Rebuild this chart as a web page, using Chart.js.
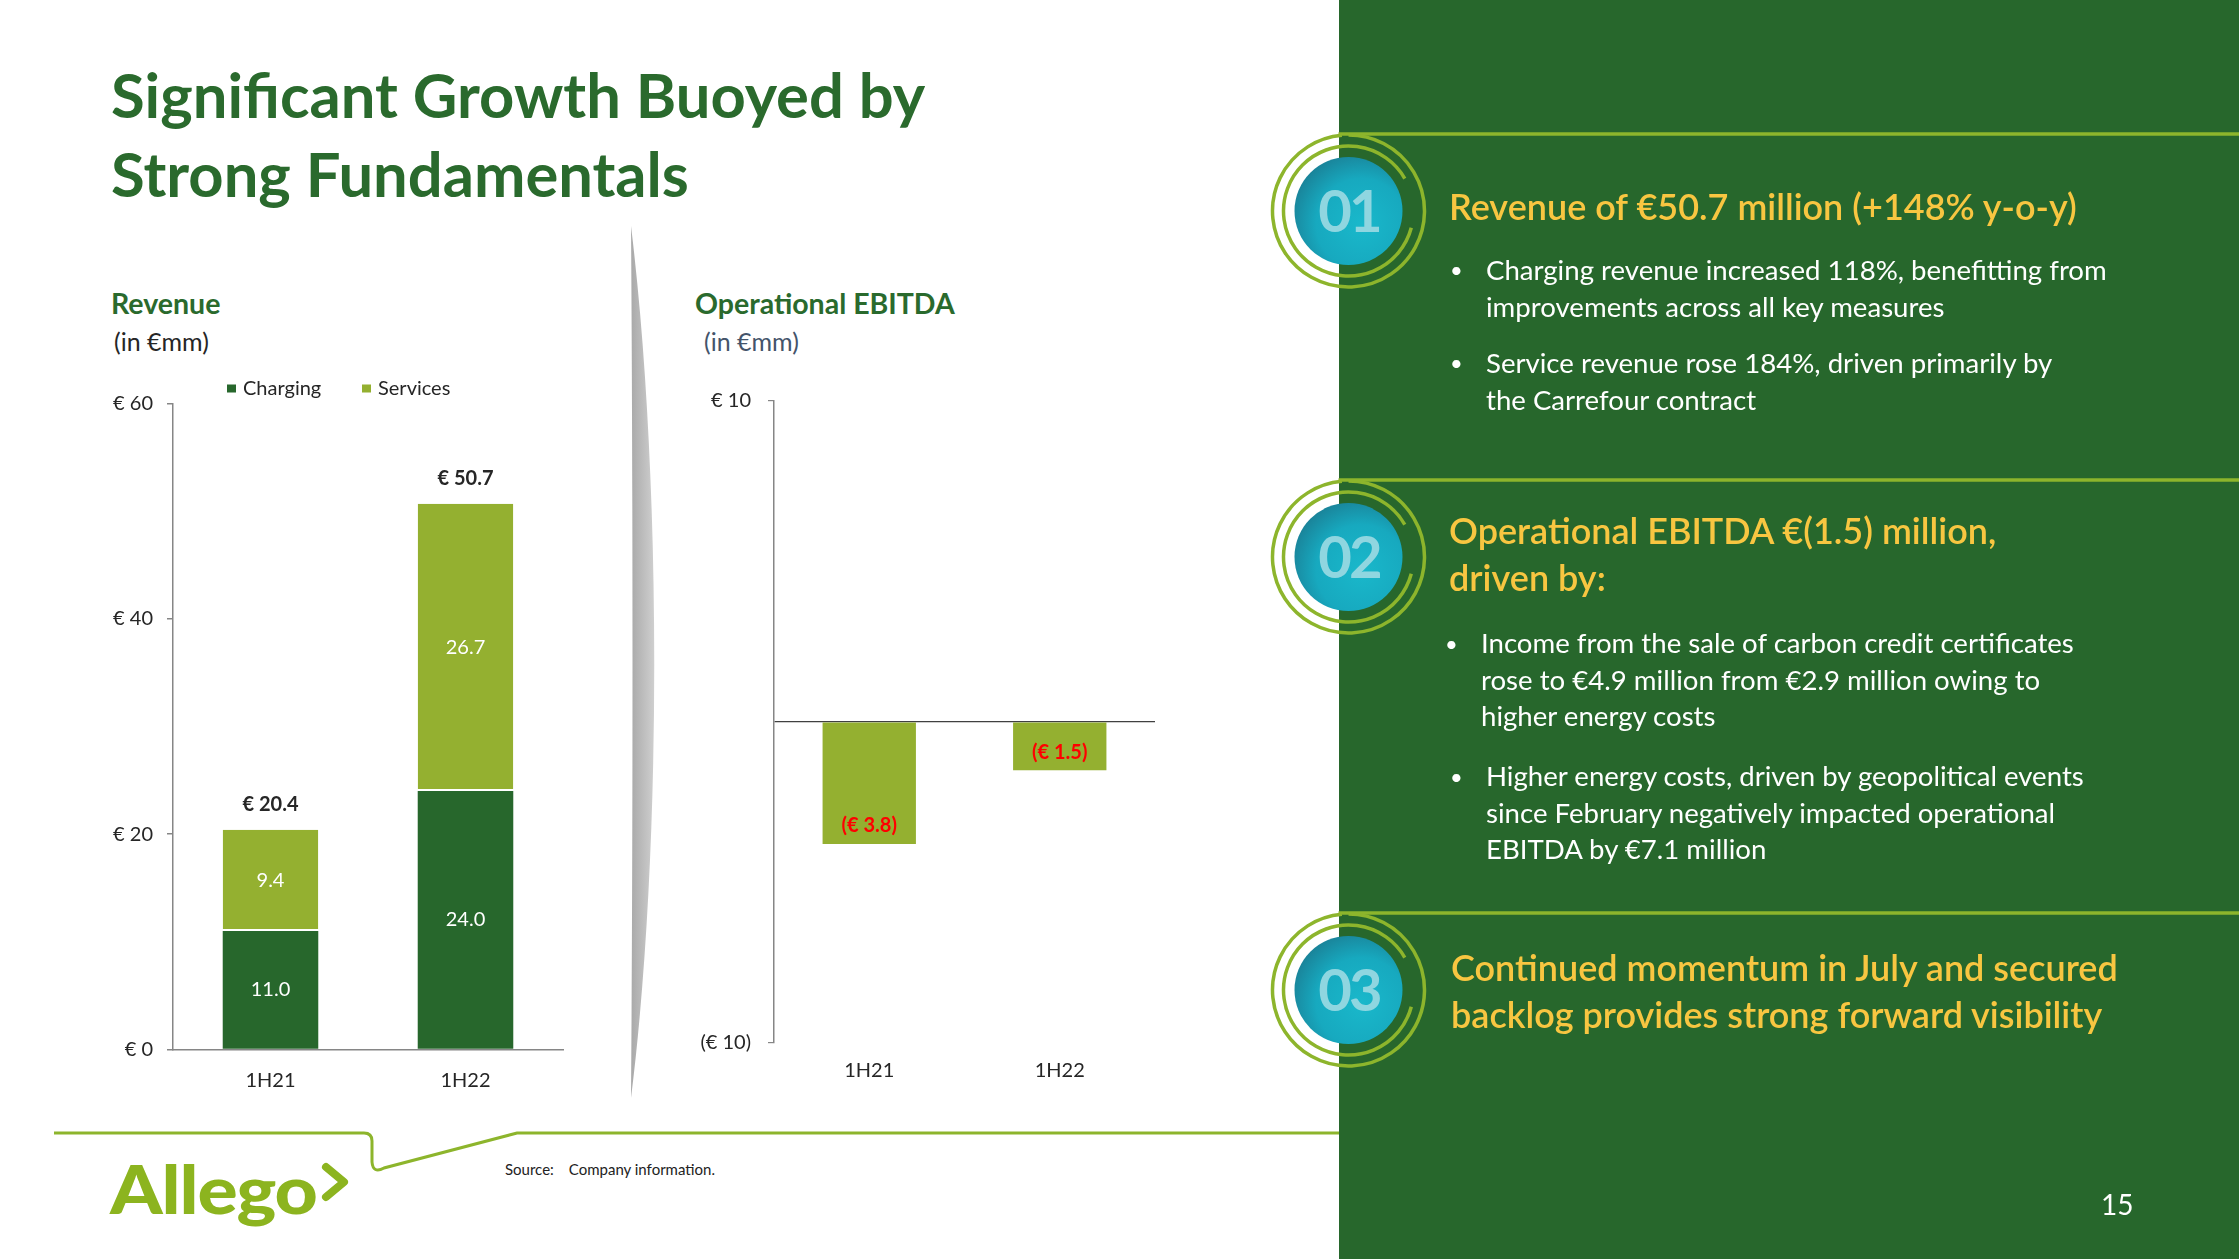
<!DOCTYPE html>
<html>
<head>
<meta charset="utf-8">
<script src="https://cdn.jsdelivr.net/npm/chart.js@4.4.1/dist/chart.umd.min.js"></script>
<style>
  html, body { margin: 0; padding: 0; background: #fff; }
  body { width: 2239px; height: 1259px; position: relative; overflow: hidden; font-family: Lato, "Open Sans", sans-serif; }
  .abs { position: absolute; white-space: nowrap; }
  .title { left: 111px; top: 55px; font-size: 61.5px; line-height: 79px; font-weight: 700; color: #2a6a2d; }
  .chartTitle { font-size: 28.5px; line-height: 32px; font-weight: 700; color: #2a6a2d; }
  .unit { font-size: 25px; line-height: 28px; }
  .panel { left: 1339px; top: 0; width: 900px; height: 1259px; background: #27672c; }
  .head { font-size: 36px; line-height: 47px; font-weight: 600; color: #f8c641; }
  .bul { font-size: 27.6px; line-height: 37px; color: #fff; }
  .dot { font-size: 22px; line-height: 37px; color: #fff; }
  .num { left: 1295px; width: 108px; text-align: center; font-size: 58px; font-weight: 700; color: #8fd6e0; letter-spacing: -3px; }
  #revWrap { left: 60px; top: 380px; width: 520px; height: 740px; }
  #ebWrap { left: 680px; top: 380px; width: 490px; height: 740px; }
</style>
</head>
<body>

<div class="abs title">Significant Growth Buoyed by<br>Strong Fundamentals</div>

<div class="abs chartTitle" style="left:111px;top:287px;">Revenue</div>
<div class="abs unit" style="left:114px;top:327px;color:#262626;">(in €mm)</div>
<div class="abs chartTitle" style="left:695px;top:287px;">Operational EBITDA</div>
<div class="abs unit" style="left:704px;top:327px;color:#44546a;">(in €mm)</div>

<svg class="abs" style="left:0;top:0;" width="1339" height="1259">
  <defs>
    <linearGradient id="div" x1="0" x2="1" y1="0" y2="0">
      <stop offset="0" stop-color="#a9a9a9"/>
      <stop offset="1" stop-color="#cfcfcf"/>
    </linearGradient>
  </defs>
  <path d="M631,226 C662,480 662,850 631,1098 C633,850 633,480 631,226 Z" fill="url(#div)"/>
  <path d="M54,1133 L364,1133 Q372,1133 372,1141 L372,1162 Q373,1174 384,1168 L517,1133 L1339,1133" fill="none" stroke="#8db52c" stroke-width="3"/>
  <path d="M326,1167 L344,1182 L326,1197" fill="none" stroke="#8cb41f" stroke-width="8" stroke-linecap="round" stroke-linejoin="round"/>
</svg>

<div class="abs" style="left:110px;top:1148px;font-size:67px;line-height:80px;font-weight:900;color:#8cb41f;letter-spacing:-1px;transform:scaleX(1.12);transform-origin:0 0;">Allego</div>
<div class="abs" style="left:505px;top:1160px;font-size:15px;line-height:18px;color:#222;">Source:<span style="margin-left:15px;">Company information.</span></div>

<div id="revWrap" class="abs"><canvas id="revChart"></canvas></div>
<div id="ebWrap" class="abs"><canvas id="ebChart"></canvas></div>

<div class="abs panel"></div>
<svg id="deco" class="abs" style="left:0;top:0;" width="2239" height="1259"></svg>

<div class="abs num" style="top:170px;line-height:80px;">01</div>
<div class="abs num" style="top:516px;line-height:80px;">02</div>
<div class="abs num" style="top:949px;line-height:80px;">03</div>

<div class="abs head" style="left:1449px;top:183px;">Revenue of €50.7 million (+148% y-o-y)</div>
<div class="abs dot" style="left:1450px;top:251px;">•</div>
<div class="abs bul" style="left:1486px;top:251px;">Charging revenue increased 118%, benefitting from<br>improvements across all key measures</div>
<div class="abs dot" style="left:1450px;top:344px;">•</div>
<div class="abs bul" style="left:1486px;top:344px;">Service revenue rose 184%, driven primarily by<br>the Carrefour contract</div>

<div class="abs head" style="left:1449px;top:507px;">Operational EBITDA €(1.5) million,<br>driven by:</div>
<div class="abs dot" style="left:1445px;top:625px;">•</div>
<div class="abs bul" style="left:1481px;top:625px;line-height:36.5px;">Income from the sale of carbon credit certificates<br>rose to €4.9 million from €2.9 million owing to<br>higher energy costs</div>
<div class="abs dot" style="left:1450px;top:758px;">•</div>
<div class="abs bul" style="left:1486px;top:758px;line-height:36.5px;">Higher energy costs, driven by geopolitical events<br>since February negatively impacted operational<br>EBITDA by €7.1 million</div>

<div class="abs head" style="left:1451px;top:944px;">Continued momentum in July and secured<br>backlog provides strong forward visibility</div>

<div class="abs" style="left:2101px;top:1186px;font-size:28px;line-height:36px;color:#fff;">15</div>

<script>
// decorations on the right panel
const badgeCentres = [211, 557, 990];
const svgNS = 'http://www.w3.org/2000/svg';
const deco = document.getElementById('deco');
function el(tag, attrs) {
  const e = document.createElementNS(svgNS, tag);
  for (const k in attrs) e.setAttribute(k, attrs[k]);
  deco.appendChild(e);
  return e;
}
function arc(cx, cy, r, a1, a2) {
  const p = a => [cx + r * Math.cos(a * Math.PI / 180), cy + r * Math.sin(a * Math.PI / 180)];
  const s = p(a1), e = p(a2);
  const large = (a2 - a1) > 180 ? 1 : 0;
  return `M${s[0]},${s[1]} A${r},${r} 0 ${large} 1 ${e[0]},${e[1]}`;
}
const defs = el('defs', {});
const grad = document.createElementNS(svgNS, 'radialGradient');
grad.setAttribute('id', 'teal');
grad.setAttribute('cx', '0.62'); grad.setAttribute('cy', '0.62'); grad.setAttribute('r', '0.7');
[['0', '#19b8cb'], ['0.6', '#17a9bf'], ['1', '#1a7f95']].forEach(([o, c]) => {
  const st = document.createElementNS(svgNS, 'stop');
  st.setAttribute('offset', o); st.setAttribute('stop-color', c);
  grad.appendChild(st);
});
defs.appendChild(grad);
badgeCentres.forEach(cy => {
  const cx = 1348.5;
  el('line', { x1: cx - 10, y1: cy - 77, x2: 2239, y2: cy - 77, stroke: '#8db52c', 'stroke-width': 3.5 });
  el('path', { d: arc(cx, cy, 76, -90, 265), fill: 'none', stroke: '#8db52c', 'stroke-width': 3.5 });
  el('path', { d: arc(cx, cy, 65, 15, 330), fill: 'none', stroke: '#8db52c', 'stroke-width': 3.5 });
  el('circle', { cx: cx, cy: cy, r: 54, fill: 'url(#teal)' });
});

// ---- data ----
const categories = ['1H21', '1H22'];
const chargingValues = [11.0, 24.0];
const servicesValues = [9.4, 26.7];
const revenueTicks = [0, 20, 40, 60];
const revenueTickLabels = ['€ 0', '€ 20', '€ 40', '€ 60'];
const ebitdaValues = [-3.8, -1.5];
const ebitdaTicks = [-10, 0, 10];
const ebitdaTickLabels = ['(€ 10)', '', '€ 10'];

const darkGreen = '#27672c';
const lightGreen = '#94b030';
const axisGrey = '#868686';
const labelFont = { family: 'Lato', size: 20 };

// y axes: fixed width, no extra label padding so the plot area lands where we want
function fixY(width) {
  return scale => { scale.width = width; scale.paddingTop = 0; scale.paddingBottom = 0; };
}

// stacked bar labels + totals + legend row
const revenueLabels = {
  id: 'revenueLabels',
  afterDatasetsDraw(chart) {
    const ctx = chart.ctx;
    const area = chart.chartArea;
    ctx.save();
    ctx.textAlign = 'center';
    ctx.textBaseline = 'middle';
    ctx.font = '20px Lato';
    ctx.fillStyle = '#ffffff';
    chart.data.datasets.forEach((ds, i) => {
      chart.getDatasetMeta(i).data.forEach((bar, j) => {
        ctx.fillText(ds.data[j].toFixed(1), bar.x, (bar.y + bar.base) / 2);
      });
    });
    ctx.font = 'bold 20px Lato';
    ctx.fillStyle = '#262626';
    chart.getDatasetMeta(1).data.forEach((bar, j) => {
      const total = chargingValues[j] + servicesValues[j];
      ctx.fillText('€ ' + total.toFixed(1), bar.x, bar.y - 25);
    });
    // legend
    ctx.textAlign = 'left';
    ctx.font = '20px Lato';
    const offs = [54, 189];
    chart.data.datasets.forEach((ds, i) => {
      const x = area.left + offs[i];
      const y = area.top - 15;
      ctx.fillStyle = ds.backgroundColor;
      ctx.fillRect(x, y - 4, 9, 8);
      ctx.fillStyle = '#262626';
      ctx.fillText(ds.label, x + 16, y);
    });
    ctx.restore();
  }
};

new Chart(document.getElementById('revChart'), {
  type: 'bar',
  data: {
    labels: categories,
    datasets: [
      { label: 'Charging', data: chargingValues, backgroundColor: darkGreen,
        barPercentage: 0.49, categoryPercentage: 1 },
      { label: 'Services', data: servicesValues, backgroundColor: lightGreen,
        borderColor: '#ffffff', borderWidth: { top: 0, left: 0, right: 0, bottom: 2 }, borderSkipped: false,
        barPercentage: 0.49, categoryPercentage: 1 }
    ]
  },
  options: {
    responsive: true,
    maintainAspectRatio: false,
    animation: false,
    layout: { padding: { top: 23.5, right: 17, left: 0, bottom: 0 } },
    plugins: { legend: { display: false }, tooltip: { enabled: false } },
    scales: {
      x: {
        stacked: true,
        grid: { display: false, drawTicks: false },
        border: { display: true, color: axisGrey, width: 1.5 },
        ticks: { color: '#262626', font: labelFont, padding: 19 },
        afterFit(scale) { scale.height = 70.5; }
      },
      y: {
        stacked: true,
        min: 0, max: 60,
        afterBuildTicks(scale) { scale.ticks = revenueTicks.map(v => ({ value: v })); },
        afterFit: fixY(113),
        grid: { drawOnChartArea: false, tickLength: 6, color: axisGrey, lineWidth: 1.5 },
        border: { display: true, color: axisGrey, width: 1.5 },
        ticks: { color: '#262626', font: labelFont, padding: 14,
          callback: (v, i) => revenueTickLabels[i] }
      }
    }
  },
  plugins: [revenueLabels]
});

const ebitdaLabels = {
  id: 'ebitdaLabels',
  afterDatasetsDraw(chart) {
    const ctx = chart.ctx;
    ctx.save();
    ctx.textAlign = 'center';
    ctx.textBaseline = 'middle';
    ctx.font = 'bold 20px Lato';
    ctx.fillStyle = '#ff0000';
    chart.getDatasetMeta(0).data.forEach((bar, j) => {
      ctx.fillText('(€ ' + Math.abs(ebitdaValues[j]).toFixed(1) + ')', bar.x, bar.y - 18);
    });
    ctx.restore();
  }
};

new Chart(document.getElementById('ebChart'), {
  type: 'bar',
  data: {
    labels: categories,
    datasets: [
      { label: 'Operational EBITDA', data: ebitdaValues, backgroundColor: lightGreen,
        barPercentage: 0.49, categoryPercentage: 1 }
    ]
  },
  options: {
    responsive: true,
    maintainAspectRatio: false,
    animation: false,
    layout: { padding: { top: 21, right: 15, left: 0, bottom: 0 } },
    plugins: { legend: { display: false }, tooltip: { enabled: false } },
    scales: {
      x: {
        grid: { display: false, drawTicks: false },
        border: { display: false },
        ticks: { color: '#262626', font: labelFont, padding: 16 },
        afterFit(scale) { scale.height = 77; }
      },
      y: {
        min: -10, max: 10,
        afterBuildTicks(scale) { scale.ticks = ebitdaTicks.map(v => ({ value: v })); },
        afterFit: fixY(94),
        grid: {
          drawOnChartArea: true, tickLength: 6, lineWidth: 1.2,
          color: c => c.tick && c.tick.value === 0 ? '#404040' : 'rgba(0,0,0,0)',
          tickColor: c => c.tick && c.tick.value === 0 ? 'rgba(0,0,0,0)' : axisGrey
        },
        border: { display: true, color: axisGrey, width: 1.5 },
        ticks: { color: '#262626', font: labelFont, padding: 17,
          callback: (v, i) => ebitdaTickLabels[i] }
      }
    }
  },
  plugins: [ebitdaLabels]
});
</script>
</body>
</html>
